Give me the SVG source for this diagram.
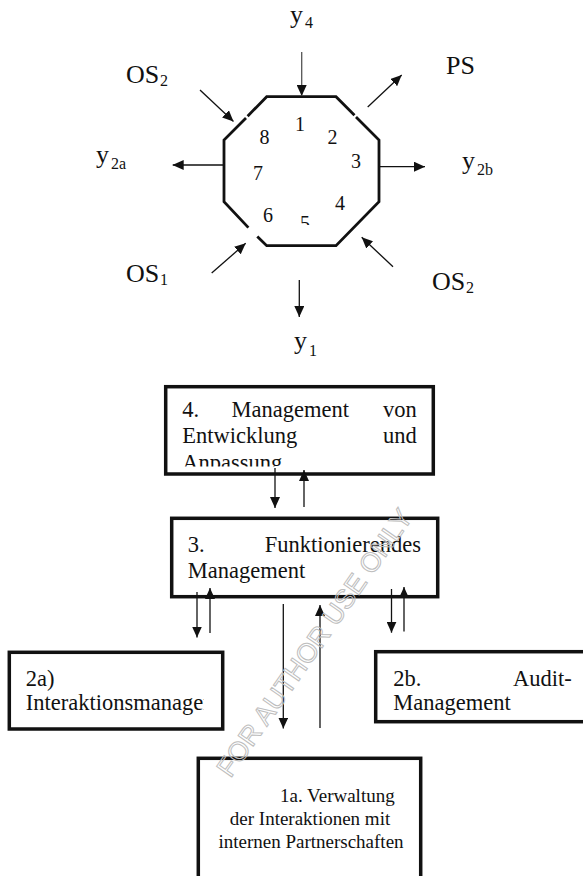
<svg xmlns="http://www.w3.org/2000/svg" width="583" height="876" viewBox="0 0 583 876">
  <style>
    .lbl { font-family: "Liberation Serif", "Times New Roman", serif; font-size: 26px; fill: #111; }
    .sub { font-family: "Liberation Serif", "Times New Roman", serif; font-size: 16px; fill: #111; }
    .num { font-family: "Liberation Serif", "Times New Roman", serif; font-size: 20px; fill: #111; }
    .box { fill: #fff; stroke: #111; stroke-width: 3.5; }
    .btxt { font-family: "Liberation Serif", "Times New Roman", serif; font-size: 22.5px; fill: #111; }
    .stxt { font-family: "Liberation Serif", "Times New Roman", serif; font-size: 19px; fill: #111; }
    .oct { fill: none; stroke: #111; stroke-width: 2.8; stroke-linecap: butt; }
    .arr { stroke: #111; stroke-width: 1.3; fill: none; marker-end: url(#head); }
    .wm { font-family: "Liberation Sans", Arial, sans-serif; font-size: 27px; fill: none; stroke: #bdbdbd; stroke-width: 1; }
  </style>
  <defs>
    <marker id="head" markerUnits="userSpaceOnUse" markerWidth="11" markerHeight="10" refX="11" refY="5" orient="auto">
      <path d="M0,0 L11,5 L0,10 z" fill="#111"/>
    </marker>
    <clipPath id="clip4">
      <rect x="168" y="389" width="263" height="77.5"/>
    </clipPath>
    <clipPath id="clip2a">
      <rect x="11" y="654" width="192.5" height="73"/>
    </clipPath>
    <clipPath id="clip5">
      <rect x="290" y="200" width="30" height="25"/>
    </clipPath>
  </defs>

  <rect width="583" height="876" fill="#fff"/>

  <!-- octagon with its eight sectors -->
  <g id="octagon">
    <path class="oct" d="M247.6,116.2 L266.7,96.7 L336,96.7 L354.5,115.2"/>
    <path class="oct" d="M356,117 L379,140 L379,201.7 L336,245.7 L266.7,245.7 L257.3,236.4"/>
    <path class="oct" d="M248.4,227.6 L224,201.7 L224,140 L246,118"/>
    <text class="num" x="295" y="131">1</text>
    <text class="num" x="327.5" y="144">2</text>
    <text class="num" x="351" y="168">3</text>
    <text class="num" x="335" y="210">4</text>
    <text class="num" x="259.5" y="144">8</text>
    <text class="num" x="253" y="180">7</text>
    <text class="num" x="263" y="221.7">6</text>
    <g clip-path="url(#clip5)">
      <text class="num" x="300" y="230">5</text>
    </g>
  </g>

  <!-- surrounding labels -->
  <g id="label-y4"><text class="lbl" x="290" y="23">y</text><text class="sub" x="305" y="28">4</text></g>
  <g id="label-os2-top"><text class="lbl" x="126" y="83">OS</text><text class="sub" x="160" y="86">2</text></g>
  <g id="label-ps"><text class="lbl" x="446" y="74">PS</text></g>
  <g id="label-y2a"><text class="lbl" x="96" y="163">y</text><text class="sub" x="111" y="169">2a</text></g>
  <g id="label-y2b"><text class="lbl" x="462" y="169">y</text><text class="sub" x="477" y="175">2b</text></g>
  <g id="label-os1"><text class="lbl" x="126" y="282">OS</text><text class="sub" x="160" y="285">1</text></g>
  <g id="label-os2-bottom"><text class="lbl" x="432" y="290">OS</text><text class="sub" x="466" y="293">2</text></g>
  <g id="label-y1"><text class="lbl" x="294" y="349">y</text><text class="sub" x="309" y="356">1</text></g>

  <!-- management boxes -->
  <g id="box4">
    <rect class="box" x="165.7" y="386.7" width="267.6" height="87.3"/>
    <g clip-path="url(#clip4)">
      <text class="btxt" x="182.3" y="417.3">4.</text>
      <text class="btxt" x="231.5" y="417.3">Management</text>
      <text class="btxt" x="416.7" y="417.3" text-anchor="end">von</text>
      <text class="btxt" x="182.3" y="443.3">Entwicklung</text>
      <text class="btxt" x="416.7" y="443.3" text-anchor="end">und</text>
      <text class="btxt" x="182.3" y="469.5">Anpassung</text>
    </g>
  </g>

  <g id="box3">
    <rect class="box" x="171.7" y="518.3" width="266" height="78.4"/>
    <text class="btxt" x="187.7" y="552.3">3.</text>
    <text class="btxt" x="421" y="552.3" text-anchor="end">Funktionierendes</text>
    <text class="btxt" x="187.7" y="578.3">Management</text>
  </g>

  <g id="box2a">
    <rect class="box" x="9.3" y="652.3" width="213.4" height="76.7"/>
    <g clip-path="url(#clip2a)">
      <text class="btxt" x="25.7" y="686">2a)</text>
      <text class="btxt" x="25.7" y="710">Interaktionsmanagement</text>
    </g>
  </g>

  <g id="box2b">
    <rect class="box" x="375.7" y="651.7" width="215" height="70"/>
    <text class="btxt" x="393.3" y="686">2b.</text>
    <text class="btxt" x="571.7" y="686" text-anchor="end">Audit-</text>
    <text class="btxt" x="393.3" y="710">Management</text>
  </g>

  <g id="box1a">
    <rect class="box" x="198.3" y="758.3" width="222.4" height="130"/>
    <text class="stxt" x="280" y="802">1a. Verwaltung</text>
    <text class="stxt" x="310" y="825" text-anchor="middle">der Interaktionen mit</text>
    <text class="stxt" x="311" y="848" text-anchor="middle">internen Partnerschaften</text>
  </g>

  <!-- connectors -->
  <g id="connectors">
    <line class="arr" x1="301.7" y1="52" x2="301.7" y2="96" style="stroke:#555"/>
    <line class="arr" x1="200" y1="90" x2="233.5" y2="121.5"/>
    <line class="arr" x1="367.7" y1="107" x2="401.7" y2="75"/>
    <line class="arr" x1="223" y1="165" x2="172.7" y2="165"/>
    <line class="arr" x1="380" y1="166.7" x2="425" y2="166.7"/>
    <line class="arr" x1="211.7" y1="273" x2="245.7" y2="243.3"/>
    <line class="arr" x1="393" y1="266.7" x2="361.7" y2="237.3"/>
    <line class="arr" x1="299.3" y1="280" x2="299.3" y2="317"/>

    <line class="arr" x1="275" y1="468" x2="275" y2="508"/>
    <line class="arr" x1="304" y1="507" x2="304" y2="470"/>

    <line class="arr" x1="197" y1="592" x2="197" y2="637.5"/>
    <line class="arr" x1="210" y1="633" x2="210" y2="588"/>

    <line class="arr" x1="391.5" y1="589" x2="391.5" y2="632.7"/>
    <line class="arr" x1="404" y1="631.5" x2="404" y2="587"/>

    <line class="arr" x1="283.3" y1="604" x2="283.3" y2="728.5"/>
    <line class="arr" x1="320" y1="728" x2="320" y2="605"/>
  </g>

  <!-- watermark -->
  <text class="wm" x="0" y="0" text-anchor="middle" transform="translate(322,648) rotate(-55)">FOR AUTHOR USE ONLY</text>
</svg>
